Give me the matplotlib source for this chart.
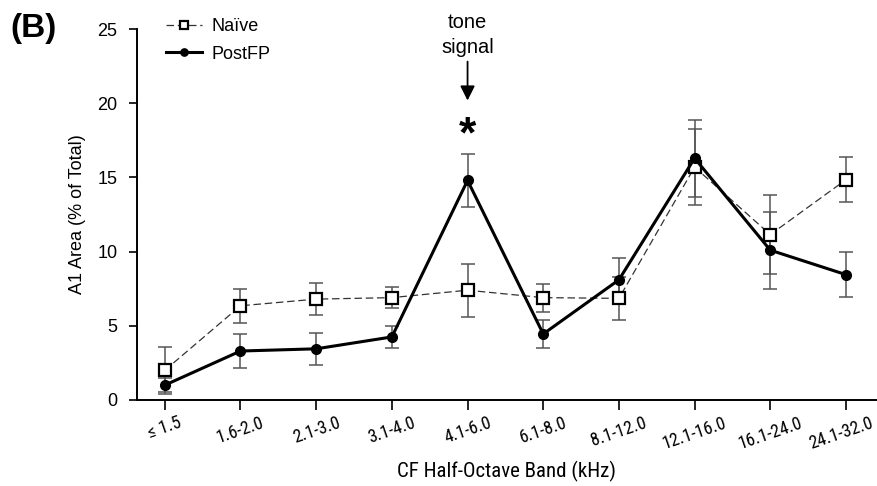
import matplotlib
matplotlib.use("Agg")
import matplotlib.pyplot as plt
import matplotlib.transforms as mtransforms
import numpy as np

categories = ["\u2264 1.5", "1.6-2.0", "2.1-3.0", "3.1-4.0", "4.1-6.0", "6.1-8.0",
              "8.1-12.0", "12.1-16.0", "16.1-24.0", "24.1-32.0"]
naive = [2.0, 6.35, 6.8, 6.9, 7.4, 6.9, 6.85, 15.7, 11.15, 14.85]
naive_err = [1.6, 1.15, 1.08, 0.72, 1.8, 0.95, 1.45, 2.55, 2.65, 1.5]
postfp = [1.0, 3.3, 3.45, 4.25, 14.8, 4.45, 8.1, 16.3, 10.1, 8.45]
postfp_err = [0.45, 1.12, 1.07, 0.72, 1.8, 0.97, 1.5, 2.6, 2.6, 1.5]

plt.rcParams['font.family'] = ['Liberation Sans', 'DejaVu Sans']
narrow = ['Roboto Condensed', 'Liberation Sans', 'DejaVu Sans']

fig = plt.figure(figsize=(8.77, 4.86), dpi=100)
ax = fig.add_axes([0.156, 0.177, 0.844, 0.763])

x = np.arange(len(categories))

ax.errorbar(x, naive, yerr=naive_err, fmt='none', ecolor='#555555', elinewidth=1.1,
            capsize=5, capthick=1.1, zorder=2)
ax.errorbar(x, postfp, yerr=postfp_err, fmt='none', ecolor='#555555', elinewidth=1.1,
            capsize=5, capthick=1.1, zorder=2)
ax.plot(x, naive, linestyle=(0, (6, 3)), color='#333333', linewidth=0.9, marker='s',
        markersize=8, markerfacecolor='white', markeredgecolor='black', markeredgewidth=1.6,
        label='Na\u00efve', zorder=3)
ax.plot(x, postfp, linestyle='-', color='black', linewidth=2.2, marker='o',
        markersize=7, markerfacecolor='black', markeredgecolor='black',
        label='PostFP', zorder=4)

ax.set_xlim(-0.37, 9.41)
ax.set_ylim(0, 25)
ax.set_yticks([0, 5, 10, 15, 20, 25])
ax.set_xticks(x)
ax.set_xticklabels(categories, rotation=19, ha='center', fontsize=12.8, family=narrow)
ax.tick_params(axis='y', labelsize=13, direction='out', length=6, width=1.2, pad=8)
ax.tick_params(axis='x', direction='out', length=7, width=1.2, pad=3)
for s in ['top', 'right']:
    ax.spines[s].set_visible(False)
for s in ['left', 'bottom']:
    ax.spines[s].set_linewidth(1.4)

# nudge the last tick label so it stays inside the figure
last = ax.get_xticklabels()[-1]
last.set_transform(last.get_transform() + mtransforms.ScaledTranslation(-5 / 100, 0, fig.dpi_scale_trans))

ax.set_ylabel("A1 Area (% of Total)", fontsize=13, labelpad=8)
ax.set_xlabel("CF Half-Octave Band (kHz)", fontsize=15, labelpad=6, family=narrow)

leg = ax.legend(loc='upper left', bbox_to_anchor=(0.03, 1.05), frameon=False, fontsize=13,
                handlelength=2.0, handletextpad=0.5, labelspacing=0.6, borderaxespad=0,
                markerscale=0.75)

# annotation: tone signal arrow and asterisk
ax.annotate("", xy=(4, 20.0), xytext=(4, 23.0),
            arrowprops=dict(arrowstyle='-|>', color='black', lw=1.3, mutation_scale=22))
ax.text(4, 23.1, "tone\nsignal", ha='center', va='bottom', fontsize=14.5, linespacing=1.45)
ax.text(4, 17.8, "*", ha='center', va='center', fontsize=32, fontweight='bold')

fig.text(0.012, 0.942, "(B)", fontsize=24, fontweight='bold', ha='left', va='center')

fig.savefig("out.png", dpi=100)
